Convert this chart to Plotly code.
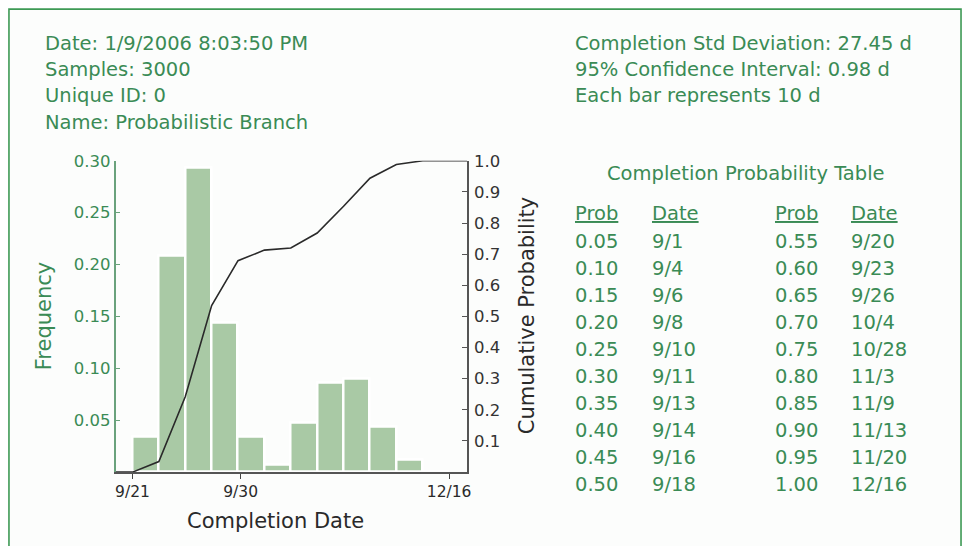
import numpy as np
import plotly.graph_objects as go

# ---- data -------------------------------------------------------------
# Histogram of completion dates: one bin per 10 days, starting at 9/21
bin_index = list(range(12))
frequency = [0.034, 0.208, 0.293, 0.144, 0.034, 0.007,
             0.048, 0.086, 0.090, 0.044, 0.012, 0.0]

# Date labels on the x axis (bin-edge units)
x_tick_pos = [0, 4.1, 12]
x_tick_text = ["9/21", "9/30", "12/16"]

freq_ticks = [0.05, 0.10, 0.15, 0.20, 0.25, 0.30]
cum_ticks = [0.1, 0.2, 0.3, 0.4, 0.5, 0.6, 0.7, 0.8, 0.9, 1.0]

header_left = ["Date: 1/9/2006 8:03:50 PM", "Samples: 3000",
               "Unique ID: 0", "Name: Probabilistic Branch"]
header_right = ["Completion Std Deviation: 27.45 d",
                "95% Confidence Interval: 0.98 d",
                "Each bar represents 10 d"]

table_prob_1 = ["0.05", "0.10", "0.15", "0.20", "0.25",
                "0.30", "0.35", "0.40", "0.45", "0.50"]
table_date_1 = ["9/1", "9/4", "9/6", "9/8", "9/10",
                "9/11", "9/13", "9/14", "9/16", "9/18"]
table_prob_2 = ["0.55", "0.60", "0.65", "0.70", "0.75",
                "0.80", "0.85", "0.90", "0.95", "1.00"]
table_date_2 = ["9/20", "9/23", "9/26", "10/4", "10/28",
                "11/3", "11/9", "11/13", "11/20", "12/16"]

# ---- styling ----------------------------------------------------------
W, H = 970, 546
FONT = "DejaVu Sans"
GREEN_TXT = "#3a8b55"
GREEN_AXIS = "#6aa27c"
BAR = "#a9c9a5"
DARK = "#2a2a2a"

X_RANGE = [-0.642, 12.68]


def fx(px):
    return px / W


def fy(py):
    # page offset of the figure box is folded into the vertical layout
    y_fig = (py - 7.9) / 0.9856
    return 1 - y_fig / H


# cumulative probability at each bin edge, extended flat to both axis ends
edges = list(range(len(frequency) + 1))
cum = [0.0] + list(np.cumsum(frequency))
cum = [min(c, 1.0) for c in cum]
line_x = [X_RANGE[0]] + edges + [X_RANGE[1]]
line_y = [0.0] + cum + [cum[-1]]

fig = go.Figure()

fig.add_trace(go.Bar(
    x=[i + 0.5 for i in bin_index], y=frequency, width=1.0,
    marker=dict(color=BAR, line=dict(color="white", width=2.5)),
    yaxis="y", showlegend=False, hoverinfo="skip",
))

fig.add_trace(go.Scatter(
    x=line_x, y=line_y, mode="lines",
    line=dict(color=DARK, width=1.6),
    yaxis="y2", showlegend=False, hoverinfo="skip",
))

fig.update_layout(
    width=W, height=H,
    margin=dict(l=0, r=0, t=0, b=0),
    paper_bgcolor="white", plot_bgcolor="rgba(0,0,0,0)",
    bargap=0,
    font=dict(family=FONT),
    xaxis=dict(
        domain=[fx(116), fx(469)], range=X_RANGE,
        tickvals=x_tick_pos, ticktext=x_tick_text,
        ticks="outside", ticklen=5, tickcolor="#444", tickwidth=1.2,
        showline=True, linecolor="#555", linewidth=1.5,
        showgrid=False, zeroline=False,
        tickfont=dict(family=FONT, size=15.5, color=DARK),
        anchor="y",
    ),
    yaxis=dict(
        domain=[fy(472), fy(160)], range=[0, 0.30],
        tickvals=freq_ticks, ticktext=[f"{v:.2f}" for v in freq_ticks],
        ticks="inside", ticklen=5, tickcolor=GREEN_AXIS, tickwidth=1.2,
        showline=True, linecolor=GREEN_AXIS, linewidth=1.5,
        showgrid=False, zeroline=False,
        tickfont=dict(family=FONT, size=16.5, color=GREEN_TXT),
        ticklabelstandoff=0,
    ),
    yaxis2=dict(
        domain=[fy(472), fy(160)], range=[0, 1.0], overlaying="y",
        side="right", anchor="x",
        tickvals=cum_ticks, ticktext=[f"{v:.1f}" for v in cum_ticks],
        ticks="inside", ticklen=5, tickcolor="#555", tickwidth=1.2,
        showline=True, linecolor="#555", linewidth=1.5,
        showgrid=False, zeroline=False,
        tickfont=dict(family=FONT, size=16.5, color="#333"),
        ticklabelstandoff=2,
    ),
)

# outer frame
fig.add_shape(type="rect", xref="paper", yref="paper",
              x0=fx(9), x1=fx(965), y0=fy(560), y1=fy(8),
              line=dict(color="#3e9a55", width=1.6),
              fillcolor="#fcfdfc", layer="below")


def text(s, x, y, size=19.5, color=GREEN_TXT, xanchor="left", angle=0):
    fig.add_annotation(text=s, x=fx(x), y=fy(y), xref="paper", yref="paper",
                       xanchor=xanchor, yanchor="middle", showarrow=False,
                       textangle=angle,
                       font=dict(family=FONT, size=size, color=color))


for i, s in enumerate(header_left):
    text(s, 43, 42 + 26.5 * i)
for i, s in enumerate(header_right):
    text(s, 575, 42 + 26.5 * i)

# axis titles
text("Frequency", 45, 315, size=21, xanchor="center", angle=-90)
text("Cumulative Probability", 530, 315, size=21, color=DARK,
     xanchor="center", angle=-90)
text("Completion Date", 277, 521, size=21, color=DARK, xanchor="center")

# completion probability table
text("Completion Probability Table", 749, 173, xanchor="center")
for col_x, head in zip([575, 653, 776, 853], ["Prob", "Date", "Prob", "Date"]):
    text(f"<u>{head}</u>", col_x, 213)
for col_x, col in zip([575, 653, 776, 853],
                      [table_prob_1, table_date_1, table_prob_2, table_date_2]):
    for i, s in enumerate(col):
        text(s, col_x, 241 + 27 * i)

fig.write_html("out.html")
